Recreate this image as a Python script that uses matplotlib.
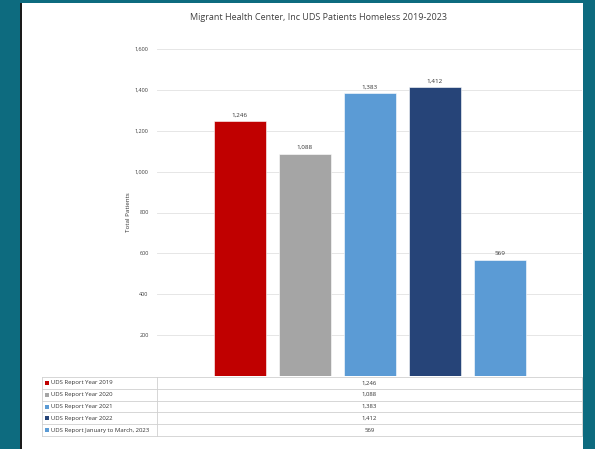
import matplotlib
matplotlib.use("Agg")
import matplotlib.pyplot as plt
import numpy as np
from matplotlib.patches import Rectangle

# data
series = ["UDS Report Year 2019", "UDS Report Year 2020", "UDS Report Year 2021",
          "UDS Report Year 2022", "UDS Report January to March, 2023"]
patients = [1246, 1088, 1383, 1412, 569]
colors = ["#C00000", "#A5A5A5", "#5B9BD5", "#264478", "#5B9BD5"]
yticks = [200, 400, 600, 800, 1000, 1200, 1400, 1600]

W, H = 595, 449
plt.rcParams["font.family"] = ["Open Sans", "DejaVu Sans"]

fig = plt.figure(figsize=(W / 100, H / 100), dpi=100)
fig.patch.set_facecolor("#0d6b7f")

def fx(px):
    return px / W

def fy(py):
    return 1 - py / H

# white chart panel with dark left edge (behind the axes)
fig.add_artist(Rectangle((fx(20), 0), fx(2), fy(3), transform=fig.transFigure,
                         facecolor="#1a1a1a", edgecolor="none", zorder=-10))
fig.add_artist(Rectangle((fx(22), 0), fx(561), fy(3), transform=fig.transFigure,
                         facecolor="white", edgecolor="none", zorder=-10))

ax = fig.add_axes([fx(157), fy(376), fx(582 - 157), fy(49) - fy(376)])
ax.set_facecolor("none")

x = np.arange(len(patients))
ax.bar(x, patients, width=0.8, color=colors, edgecolor="white", linewidth=0.4, zorder=3)
for xi, v in zip(x, patients):
    ax.text(xi, v + 18, f"{v:,}", ha="center", va="bottom", fontsize=4.5, color="#333333")

ax.set_xlim(2 - 425 / 65 / 2, 2 + 425 / 65 / 2)
ax.set_ylim(0, 1600)
ax.set_yticks(yticks)
ax.set_yticklabels([f"{t:,}" for t in yticks], fontsize=4, color="#404040")
ax.tick_params(axis="y", length=0, pad=6)
ax.set_xticks([])
ax.grid(axis="y", color="#E6E6E6", linewidth=0.7, zorder=0)
for s in ax.spines.values():
    s.set_visible(False)
ax.set_ylabel("Total Patients", fontsize=4.5, color="#333333", labelpad=3)

fig.text(fx(319), fy(17), "Migrant Health Center, Inc UDS Patients Homeless 2019-2023",
         ha="center", va="center", fontsize=6.5, color="#404040")

# data table
row_top, row_h = 377, 11.8
left, mid, right = 42, 157, 582
line_c = "#D0D0D0"
for i in range(len(series) + 1):
    y = fy(row_top + i * row_h)
    fig.add_artist(plt.Line2D([fx(left), fx(right)], [y, y], color=line_c, lw=0.6))
y0, y1 = fy(row_top), fy(row_top + len(series) * row_h)
for xx in (left, mid, right):
    fig.add_artist(plt.Line2D([fx(xx), fx(xx)], [y0, y1], color=line_c, lw=0.6))

for i, (name, v, c) in enumerate(zip(series, patients, colors)):
    yc = row_top + (i + 0.5) * row_h
    fig.add_artist(Rectangle((fx(45), fy(yc + 2)), fx(4), 4 / H,
                             transform=fig.transFigure, facecolor=c, edgecolor="none"))
    fig.text(fx(51), fy(yc), name, ha="left", va="center", fontsize=4.3, color="#333333")
    fig.text(fx(369.5), fy(yc), f"{v:,}", ha="center", va="center", fontsize=4.3, color="#333333")

fig.savefig("out.png", dpi=100, facecolor=fig.get_facecolor())
